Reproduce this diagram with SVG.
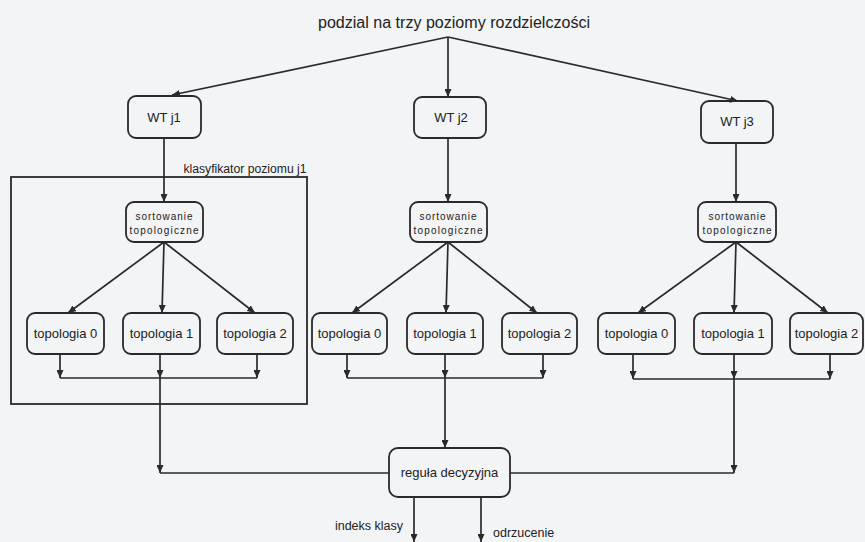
<svg xmlns="http://www.w3.org/2000/svg" width="865" height="542" viewBox="0 0 865 542">
<defs>
<marker id="ah" markerUnits="userSpaceOnUse" markerWidth="9" markerHeight="7" refX="8" refY="3.5" orient="auto">
<path d="M0,0 L8,3.5 L0,7 z" fill="#2a2a2a"/>
</marker>
<style>
.bx{fill:none;stroke:#2a2a2a;stroke-width:1.8}
.t{font-family:"Liberation Sans",Arial,sans-serif;fill:#222;text-anchor:middle}
.c{fill:none;stroke:#2a2a2a;stroke-width:1.7}
.a{marker-end:url(#ah)}
</style>
</defs>
<rect x="0" y="0" width="865" height="542" fill="#f2f4f6"/>

<g id="title"><text class="t" x="454" y="28" font-size="16" textLength="272" lengthAdjust="spacingAndGlyphs">podzial na trzy poziomy rozdzielczości</text></g>

<g id="klasyfikator">
<rect x="11" y="177" width="296" height="227" fill="none" stroke="#2a2a2a" stroke-width="1.8"/>
<text class="t" x="245" y="173" font-size="12" textLength="123" lengthAdjust="spacingAndGlyphs">klasyfikator poziomu j1</text>
</g>

<g id="wt1"><rect class="bx" x="128" y="96" width="73" height="42" rx="8"/><text class="t" x="164" y="122" font-size="13">WT j1</text></g>
<g id="wt2"><rect class="bx" x="414" y="97" width="72" height="41" rx="8"/><text class="t" x="451" y="122" font-size="13">WT j2</text></g>
<g id="wt3"><rect class="bx" x="701" y="101" width="72" height="42" rx="8"/><text class="t" x="737" y="126" font-size="13">WT j3</text></g>

<g id="sort1"><rect class="bx" x="126" y="202" width="77" height="40" rx="8"/><text class="t" x="164" y="220" font-size="10" textLength="57" lengthAdjust="spacing">sortowanie</text><text class="t" x="164" y="234" font-size="10" textLength="69" lengthAdjust="spacing">topologiczne</text></g>
<g id="sort2"><rect class="bx" x="410" y="202" width="77" height="40" rx="8"/><text class="t" x="448" y="220" font-size="10" textLength="57" lengthAdjust="spacing">sortowanie</text><text class="t" x="448" y="234" font-size="10" textLength="69" lengthAdjust="spacing">topologiczne</text></g>
<g id="sort3"><rect class="bx" x="698" y="202" width="78" height="40" rx="8"/><text class="t" x="737" y="220" font-size="10" textLength="57" lengthAdjust="spacing">sortowanie</text><text class="t" x="737" y="234" font-size="10" textLength="69" lengthAdjust="spacing">topologiczne</text></g>

<g id="j1t0"><rect class="bx" x="27" y="313" width="77" height="41" rx="8"/><text class="t" x="65.5" y="338" font-size="13">topologia 0</text></g>
<g id="j1t1"><rect class="bx" x="123" y="313" width="77" height="41" rx="8"/><text class="t" x="161.5" y="338" font-size="13">topologia 1</text></g>
<g id="j1t2"><rect class="bx" x="217" y="313" width="76" height="41" rx="8"/><text class="t" x="255" y="338" font-size="13">topologia 2</text></g>

<g id="j2t0"><rect class="bx" x="312" y="313" width="75" height="41" rx="8"/><text class="t" x="349.5" y="338" font-size="13">topologia 0</text></g>
<g id="j2t1"><rect class="bx" x="407" y="313" width="76" height="41" rx="8"/><text class="t" x="445" y="338" font-size="13">topologia 1</text></g>
<g id="j2t2"><rect class="bx" x="502" y="313" width="75" height="41" rx="8"/><text class="t" x="539.5" y="338" font-size="13">topologia 2</text></g>

<g id="j3t0"><rect class="bx" x="598" y="313" width="77" height="41" rx="8"/><text class="t" x="636.5" y="338" font-size="13">topologia 0</text></g>
<g id="j3t1"><rect class="bx" x="694" y="313" width="78" height="41" rx="8"/><text class="t" x="733" y="338" font-size="13">topologia 1</text></g>
<g id="j3t2"><rect class="bx" x="790" y="313" width="73" height="41" rx="8"/><text class="t" x="826.5" y="338" font-size="13">topologia 2</text></g>

<g id="regula"><rect class="bx" x="389" y="448" width="121" height="49" rx="9"/><text class="t" x="449.5" y="477" font-size="13">reguła decyzyjna</text></g>

<g id="outputs-labels">
<text class="t" x="403" y="530" font-size="12.5" style="text-anchor:end">indeks klasy</text>
<text class="t" x="493" y="537" font-size="12.5" style="text-anchor:start">odrzucenie</text>
</g>

<g id="connectors">
<path class="c a" d="M448,37 L172,95"/>
<path class="c a" d="M448,37 L448,97"/>
<path class="c a" d="M448,37 L738,101"/>

<path class="c a" d="M164,138 L164,202"/>
<path class="c a" d="M448,138 L448,202"/>
<path class="c a" d="M736,143 L736,202"/>

<path class="c a" d="M164,242 L68,313"/>
<path class="c a" d="M164,242 L162,313"/>
<path class="c a" d="M164,242 L255,313"/>
<path class="c a" d="M448,242 L352,313"/>
<path class="c a" d="M448,242 L446,313"/>
<path class="c a" d="M448,242 L537,313"/>
<path class="c a" d="M736,242 L638,313"/>
<path class="c a" d="M736,242 L734,313"/>
<path class="c a" d="M736,242 L828,313"/>

<path class="c a" d="M60,354 L60,378"/>
<path class="c a" d="M160,354 L160,378"/>
<path class="c a" d="M257,354 L257,378"/>
<path class="c" d="M60,378 L257,378"/>
<path class="c a" d="M347,354 L347,378"/>
<path class="c a" d="M445,354 L445,378"/>
<path class="c a" d="M543,354 L543,378"/>
<path class="c" d="M347,378 L543,378"/>
<path class="c a" d="M633,354 L633,379"/>
<path class="c a" d="M734,354 L734,379"/>
<path class="c a" d="M830,354 L830,379"/>
<path class="c" d="M633,379 L830,379"/>

<path class="c a" d="M160,378 L160,473"/>
<path class="c" d="M160,473 L389,473"/>
<path class="c a" d="M445,378 L445,448"/>
<path class="c a" d="M734,379 L734,473"/>
<path class="c" d="M510,473 L734,473"/>

<path class="c a" d="M414,497 L414,542"/>
<path class="c a" d="M481,497 L481,542"/>
</g>
</svg>
